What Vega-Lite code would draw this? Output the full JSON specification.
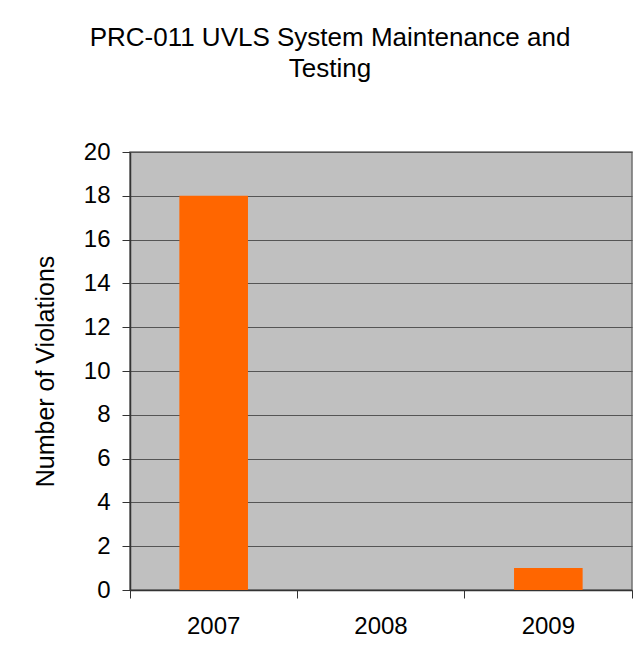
{
  "$schema": "https://vega.github.io/schema/vega-lite/v6.json",
  "autosize": {"type": "none"},
  "width": 502,
  "height": 438,
  "padding": {"left": 130, "top": 152, "right": 6, "bottom": 78},
  "background": "white",
  "title": {
    "text": ["PRC-011 UVLS System Maintenance and", "Testing"],
    "anchor": "middle",
    "dx": -51,
    "offset": 58,
    "font": "Liberation Sans",
    "fontSize": 26,
    "fontWeight": "normal",
    "color": "black",
    "lineHeight": 31.5
  },
  "data": {
    "values": [
      {"year": "2007", "violations": 18},
      {"year": "2008", "violations": 0},
      {"year": "2009", "violations": 1}
    ]
  },
  "mark": {"type": "bar", "color": "#FF6600", "width": {"band": 0.41}},
  "encoding": {
    "x": {
      "field": "year",
      "type": "nominal",
      "scale": {"paddingInner": 0, "paddingOuter": 0},
      "axis": {
        "title": null,
        "labelAngle": 0,
        "bandPosition": 1,
        "tickExtra": true,
        "grid": false,
        "tickSize": 8,
        "labelPadding": 16,
        "labelFontSize": 24,
        "labelFont": "Liberation Sans",
        "labelColor": "black",
        "domainColor": "#333333",
        "tickColor": "#333333",
        "domainWidth": 1.5,
        "tickWidth": 1
      }
    },
    "y": {
      "field": "violations",
      "type": "quantitative",
      "scale": {"domain": [0, 20], "nice": false},
      "axis": {
        "title": "Number of Violations",
        "values": [0, 2, 4, 6, 8, 10, 12, 14, 16, 18, 20],
        "grid": true,
        "gridColor": "#555555",
        "gridWidth": 1,
        "tickSize": 8,
        "labelPadding": 12,
        "labelFontSize": 24,
        "labelFont": "Liberation Sans",
        "labelColor": "black",
        "titleFont": "Liberation Sans",
        "titleFontSize": 25,
        "titleFontWeight": "normal",
        "titleColor": "black",
        "titlePadding": 25,
        "domainColor": "#333333",
        "tickColor": "#333333",
        "domainWidth": 1.5
      }
    }
  },
  "config": {
    "view": {"fill": "#C0C0C0", "stroke": "#707070", "strokeWidth": 1.5}
  }
}
